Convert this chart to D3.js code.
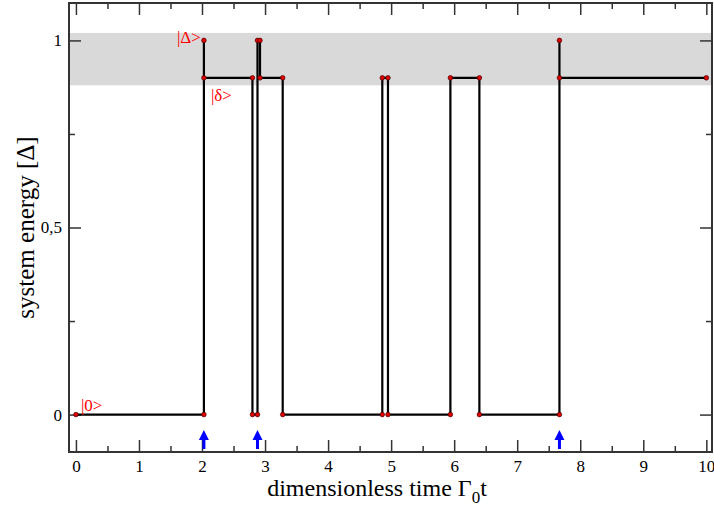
<!DOCTYPE html>
<html>
<head>
<meta charset="utf-8">
<script src="https://cdn.jsdelivr.net/npm/d3@7"></script>
<style>
    body { margin: 0; background: #fff; }
    svg { display: block; }
    text { font-family: "Liberation Serif", "DejaVu Serif", serif; }
</style>
</head>
<body>
<div id="chart"></div>
<script>
// ===================================
// Quantum jump trajectory: system energy vs time
// ===================================

// step trajectory vertices (time, energy)
const times = [0, 2.03, 2.03, 2.03, 2.80, 2.80, 2.88, 2.88, 2.92, 2.92, 3.28, 3.28,
    4.86, 4.86, 4.95, 4.95, 5.94, 5.94, 6.40, 6.40, 7.67, 7.67, 7.67, 10];
const energies = [0, 0, 1, 0.9, 0.9, 0, 0, 1, 1, 0.9, 0.9, 0,
    0, 0.9, 0.9, 0, 0, 0.9, 0.9, 0, 0, 1, 0.9, 0.9];

// moments of the excitations marked with arrows
const jumpTimes = [2.03, 2.88, 7.67];

// shaded energy band
const band = [0.88, 1.02];

const xTicks = [0, 1, 2, 3, 4, 5, 6, 7, 8, 9, 10];
const yTicks = [0, 0.5, 1];
const yTickLabels = ['0', '0,5', '1'];
const stateLabels = ['|0>', '|Δ>', '|δ>'];

const width = 714, height = 512;
const margin = { left: 69, right: 2, top: 3, bottom: 60 };

const svg = d3.select('#chart').append('svg')
    .attr('width', width)
    .attr('height', height);

const x = d3.scaleLinear().domain([-0.11, 10.09]).range([margin.left, width - margin.right]);
const y = d3.scaleLinear().domain([-0.1, 1.1]).range([height - margin.bottom, margin.top]);

// band
svg.append('rect')
    .attr('x', x.range()[0])
    .attr('width', x.range()[1] - x.range()[0])
    .attr('y', y(band[1]))
    .attr('height', y(band[0]) - y(band[1]))
    .attr('fill', '#d9d9d9');

// axes (major + minor ticks, mirrored on all sides)
const minorX = d3.range(0.5, 10, 1);
const minorY = [0.25, 0.75];
const axisColor = '#333';

function styleAxis(g) {
    g.select('.domain').remove();
    g.selectAll('line').attr('stroke', axisColor).attr('stroke-width', 1.5);
    g.selectAll('text').attr('font-size', 17).attr('fill', '#000');
}

const bottomY = y.range()[0], topY = y.range()[1];
const leftX = x.range()[0], rightX = x.range()[1];

svg.append('g').attr('transform', `translate(0,${bottomY})`)
    .call(d3.axisBottom(x).tickValues(xTicks).tickSize(-12).tickPadding(8).tickFormat(d3.format('d')))
    .call(styleAxis);
svg.append('g').attr('transform', `translate(0,${bottomY})`)
    .call(d3.axisBottom(x).tickValues(minorX).tickSize(-6).tickFormat(''))
    .call(styleAxis);
svg.append('g').attr('transform', `translate(0,${topY})`)
    .call(d3.axisTop(x).tickValues(xTicks).tickSize(-12).tickFormat(''))
    .call(styleAxis);
svg.append('g').attr('transform', `translate(0,${topY})`)
    .call(d3.axisTop(x).tickValues(minorX).tickSize(-6).tickFormat(''))
    .call(styleAxis);

svg.append('g').attr('transform', `translate(${leftX},0)`)
    .call(d3.axisLeft(y).tickValues(yTicks).tickSize(-12).tickPadding(7)
        .tickFormat((d, i) => yTickLabels[i]))
    .call(styleAxis);
svg.append('g').attr('transform', `translate(${leftX},0)`)
    .call(d3.axisLeft(y).tickValues(minorY).tickSize(-6).tickFormat(''))
    .call(styleAxis);
svg.append('g').attr('transform', `translate(${rightX},0)`)
    .call(d3.axisRight(y).tickValues(yTicks).tickSize(-12).tickFormat(''))
    .call(styleAxis);
svg.append('g').attr('transform', `translate(${rightX},0)`)
    .call(d3.axisRight(y).tickValues(minorY).tickSize(-6).tickFormat(''))
    .call(styleAxis);

// frame
svg.append('rect')
    .attr('x', leftX).attr('y', topY)
    .attr('width', rightX - leftX).attr('height', bottomY - topY)
    .attr('fill', 'none')
    .attr('stroke', axisColor)
    .attr('stroke-width', 2);

// trajectory
const pts = times.map((t, i) => [t, energies[i]]);
const line = d3.line().x(d => x(d[0])).y(d => y(d[1]));

svg.append('path')
    .datum(pts)
    .attr('d', line)
    .attr('fill', 'none')
    .attr('stroke', '#000')
    .attr('stroke-width', 2.2);

svg.append('g')
    .selectAll('circle')
    .data(pts)
    .join('circle')
    .attr('cx', d => x(d[0]))
    .attr('cy', d => y(d[1]))
    .attr('r', 2.3)
    .attr('fill', '#e00000')
    .attr('stroke', '#400')
    .attr('stroke-width', 0.7);

// blue arrows at the jumps
const arrows = svg.append('g').attr('fill', '#0000ff');
jumpTimes.forEach(t => {
    const cx = x(t);
    arrows.append('rect')
        .attr('x', cx - 1.5).attr('y', bottomY - 13)
        .attr('width', 3).attr('height', 10);
    arrows.append('path')
        .attr('d', `M${cx - 5},${bottomY - 12} L${cx},${bottomY - 22} L${cx + 5},${bottomY - 12} Z`);
});

// state labels
const lbl = svg.append('g').attr('fill', '#ff0000').attr('font-size', 17);
lbl.append('text').attr('x', x(0) + 5).attr('y', y(0) - 4).text(stateLabels[0]);
lbl.append('text').attr('x', x(2.03) - 3).attr('y', y(1) + 3)
    .attr('text-anchor', 'end').text(stateLabels[1]);
lbl.append('text').attr('x', x(2.03) + 7).attr('y', y(0.9) + 23).text(stateLabels[2]);

// axis titles
const xTitle = svg.append('text')
    .attr('x', 377).attr('y', 496)
    .attr('text-anchor', 'middle')
    .attr('font-size', 24)
    .attr('fill', '#000');
xTitle.append('tspan').text('dimensionless time Γ');
xTitle.append('tspan').attr('font-size', 17).attr('dy', 7).text('0');
xTitle.append('tspan').attr('dy', -7).text('t');

svg.append('text')
    .attr('transform', `translate(34,${(topY + bottomY) / 2}) rotate(-90)`)
    .attr('text-anchor', 'middle')
    .attr('font-size', 25)
    .attr('fill', '#000')
    .text('system energy [Δ]');
</script>
</body>
</html>
